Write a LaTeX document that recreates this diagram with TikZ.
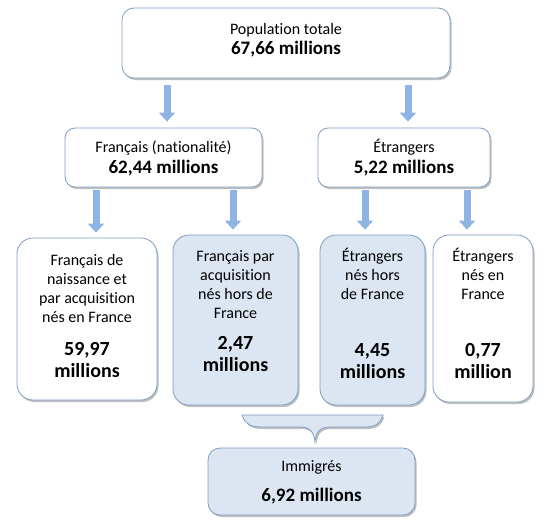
\documentclass[tikz,border=0pt]{standalone}
\usepackage{fontspec}
\setmainfont{Carlito}[Ligatures=NoCommon]
\usetikzlibrary{shadows,arrows.meta}
\definecolor{bord}{HTML}{7F9DC3}
\definecolor{lblue}{HTML}{DCE6F2}
\definecolor{arr}{HTML}{8DB4E2}
\tikzset{
  box/.style={draw=bord, line width=0.8pt, rounded corners=12pt, fill=white,
    drop shadow={shadow xshift=1.5pt, shadow yshift=-2pt, fill=black, opacity=0.25},
    inner sep=0pt},
  bluebox/.style={box, fill=lblue},
  txt/.style={font=\fontsize{16}{19}\selectfont, inner sep=0pt, align=center, anchor=base},
  num/.style={font=\fontsize{19}{22}\selectfont\bfseries, inner sep=0pt, align=center, anchor=base},
  bignum/.style={num, font=\fontsize{20}{22}\selectfont\bfseries},
  flow/.style={arr, line width=7pt, -{Triangle[width=16pt,length=9pt]}},
}
\begin{document}
\begin{tikzpicture}[x=1pt,y=-1pt]
\useasboundingbox (0,0) rectangle (556,525);
% boxes
\node[box, minimum width=328pt, minimum height=70pt] (top) at (286,43) {};
\node[box, minimum width=197pt, minimum height=59pt, rounded corners=10pt] (fr) at (163.5,157.5) {};
\node[box, minimum width=172pt, minimum height=59pt, rounded corners=10pt] (et) at (404,157.5) {};
\node[box, minimum width=140pt, minimum height=162pt, rounded corners=16pt] (b1) at (87,319) {};
\node[bluebox, minimum width=125pt, minimum height=170pt, rounded corners=16pt] (b2) at (235.5,320) {};
\node[bluebox, minimum width=105pt, minimum height=170pt, rounded corners=16pt] (b3) at (372.5,320) {};
\node[box, minimum width=100pt, minimum height=167pt, rounded corners=16pt] (b4) at (483,318.5) {};
\node[bluebox, minimum width=207pt, minimum height=67pt, rounded corners=12pt] (imm) at (311.5,481.5) {};
% texts (base anchor = baseline of the last line)
\node[txt] (t0) at (286,34) {Population totale};
\node[num] (n0) at (286,54) {67,66 millions};
\node[txt] (t1) at (163.5,152) {Français (nationalité)};
\node[num] (n1) at (163.5,173.5) {62,44 millions};
\node[txt] (t2) at (404,152) {Étrangers};
\node[num] (n2) at (404,173.5) {5,22 millions};
\node[txt] (t3) at (87,322) {Français de\\naissance et\\par acquisition\\nés en France};
\node[bignum] (n3) at (87,377) {59,97\\millions};
\node[txt] (t4) at (235.5,318) {Français par\\acquisition\\nés hors de\\France};
\node[bignum] (n4) at (235.5,371.5) {2,47\\millions};
\node[txt] (t5) at (372.5,299) {Étrangers\\nés hors\\de France};
\node[bignum] (n5) at (372.5,378.5) {4,45\\millions};
\node[txt] (t6) at (483,299) {Étrangers\\nés en\\France};
\node[bignum] (n6) at (483,378.5) {0,77\\million};
\node[txt] (t7) at (311.5,471) {Immigrés};
\node[num] (n7) at (311.5,501) {6,92 millions};
% arrows
\coordinate (a1) at (167,0);
\coordinate (a2) at (408,0);
\coordinate (a3) at (96,0);
\coordinate (a4) at (233,0);
\coordinate (a5) at (365,0);
\coordinate (a6) at (467,0);
\draw[flow, shorten <=7pt, shorten >=6pt] (top.south -| a1) -- (fr.north -| a1);
\draw[flow, shorten <=7pt, shorten >=6pt] (top.south -| a2) -- (et.north -| a2);
\draw[flow, shorten <=3pt, shorten >=5pt] (fr.south -| a3) -- (b1.north -| a3);
\draw[flow, shorten <=3pt, shorten >=5pt] (fr.south -| a4) -- (b2.north -| a4);
\draw[flow, shorten <=3pt, shorten >=5pt] (et.south -| a5) -- (b3.north -| a5);
\draw[flow, shorten <=3pt, shorten >=5pt] (et.south -| a6) -- (b4.north -| a6);
% brace
\path[fill=lblue, draw=bord, line width=0.8pt,
  drop shadow={shadow xshift=1.5pt, shadow yshift=-2pt, fill=black, opacity=0.25}]
  (242,415) -- (383,415)
  .. controls (380,424) and (375,427) .. (365,427) -- (330,427)
  .. controls (320,427) and (316,432) .. (315,442)
  .. controls (314,432) and (310,427) .. (300,427) -- (262,427)
  .. controls (250,427) and (245,424) .. (242,415) -- cycle;
\end{tikzpicture}
\end{document}
